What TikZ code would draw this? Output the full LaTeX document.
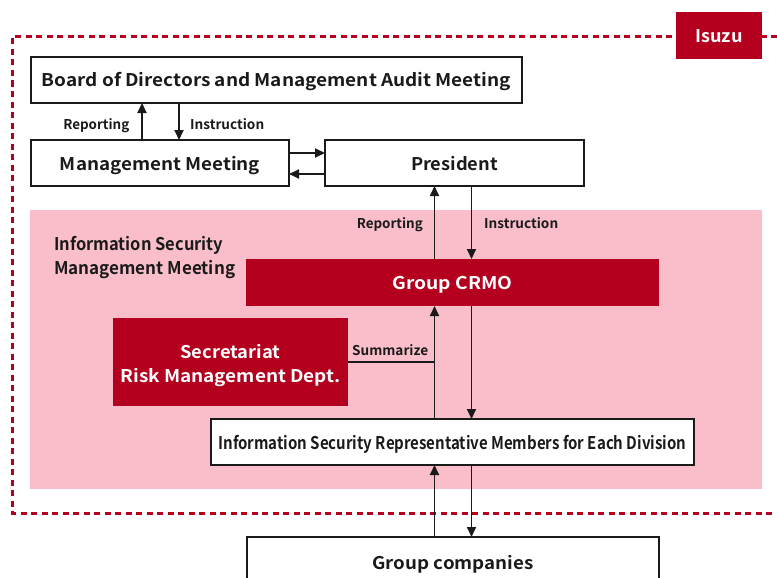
\documentclass[tikz,border=0pt]{standalone}
\usepackage{fontspec}
\setmainfont{Noto Sans CJK JP}[BoldFont={* Bold}]
\usepackage{graphicx}
\usetikzlibrary{arrows.meta}
\definecolor{isred}{HTML}{B4001E}
\definecolor{ispink}{HTML}{F9BEC9}
\definecolor{ink}{HTML}{1A1A1A}
\newcommand\fw[2]{\resizebox{#1pt}{\height}{#2}}
\begin{document}
\begin{tikzpicture}[x=1pt,y=-1pt,
  wbox/.style={draw=ink, line width=1.3pt, fill=white, inner sep=0pt, outer sep=0pt,
    text height=16pt, text depth=2pt,
    font=\fontsize{17.5}{20}\selectfont\bfseries, text=ink},
  rbox/.style={fill=isred, inner sep=0pt, outer sep=0pt,
    font=\fontsize{17.5}{24.5}\selectfont\bfseries, text=white, align=center},
  one/.style={text height=16pt, text depth=2pt},
  lbl/.style={font=\fontsize{13.5}{16}\selectfont\bfseries, text=ink, inner sep=0pt,
    text height=10pt, text depth=0pt},
  arr/.style={draw=ink, line width=1.8pt, -{Triangle[width=9pt,length=10pt]}},
  ln/.style={draw=ink, line width=1.8pt},
  frame/.style={draw=isred, line width=3pt, dash pattern=on 6pt off 4.5pt}
]
\path[use as bounding box, clip] (0,0) rectangle (777,578);
% pink region
\fill[ispink] (30,210) rectangle (762,489);
% dashed Isuzu frame
\draw[frame] (777,37) -- (12,37) -- (12,513) -- (777,513);
\node[rbox, one, minimum width=86pt, minimum height=47pt] (isuzu) at (719,35.5) {\fw{47}{Isuzu}};
% boxes
\node[wbox, minimum width=491pt, minimum height=46pt] (board) at (276.5,80)
  {\fw{469}{Board of Directors and Management Audit Meeting}};
\node[wbox, minimum width=258pt, minimum height=46pt] (mm) at (160,163)
  {\fw{200}{Management Meeting}};
\node[wbox, minimum width=259pt, minimum height=46pt] (pres) at (454.5,163)
  {\fw{87}{President}};
\node[rbox, one, minimum width=413pt, minimum height=47pt] (crmo) at (452.5,282.5)
  {\fw{120}{Group CRMO}};
\node[rbox, minimum width=235pt, minimum height=88pt] (sec) at (230.5,362)
  {\rule{0pt}{21pt}\fw{100}{Secretariat}\\\fw{220}{Risk Management Dept.}};
\node[wbox, minimum width=483pt, minimum height=46pt] (reps) at (452.5,442)
  {\fw{468}{Information Security Representative Members for Each Division}};
\node[wbox, minimum width=412pt, minimum height=50pt] (grp) at (453,562)
  {\fw{161}{Group companies}};
% meeting label
\node[anchor=west, align=left, inner sep=0pt, text=ink,
  font=\fontsize{17.5}{24}\selectfont\bfseries] (ismm) at (54,257.5)
  {\fw{169}{Information Security}\\\fw{181}{Management Meeting}};
% helper coordinates
\coordinate (bux) at (142,0);
\coordinate (bdx) at (179,0);
\coordinate (hy1) at (0,153);
\coordinate (hy2) at (0,174);
\coordinate (ux) at (434.5,0);
\coordinate (dx) at (471.5,0);
\coordinate (sj) at (434.5,362);
% connectors
\draw[arr] (mm.north -| bux) -- (board.south -| bux);
\draw[arr] (board.south -| bdx) -- (mm.north -| bdx);
\draw[arr] (mm.east |- hy1) -- (pres.west |- hy1);
\draw[arr] (pres.west |- hy2) -- (mm.east |- hy2);
\draw[arr] (crmo.north -| ux) -- (pres.south -| ux);
\draw[arr] (pres.south -| dx) -- (crmo.north -| dx);
\draw[arr] (reps.north -| ux) -- (crmo.south -| ux);
\draw[arr] (crmo.south -| dx) -- (reps.north -| dx);
\draw[arr] (grp.north -| ux) -- (reps.south -| ux);
\draw[arr] (reps.south -| dx) -- (grp.north -| dx);
\draw[ln] (sec.east |- sj) -- (sj);
% labels
\node[lbl, anchor=east] (rep1) at (129.5,124) {\fw{66}{Reporting}};
\node[lbl, anchor=west] (ins1) at (190,124) {\fw{74}{Instruction}};
\node[lbl, anchor=east] (rep2) at (423,223) {\fw{66}{Reporting}};
\node[lbl, anchor=west] (ins2) at (484,223) {\fw{74}{Instruction}};
\node[lbl, anchor=west] (sum) at (352,350) {\fw{76}{Summarize}};
\end{tikzpicture}
\end{document}
